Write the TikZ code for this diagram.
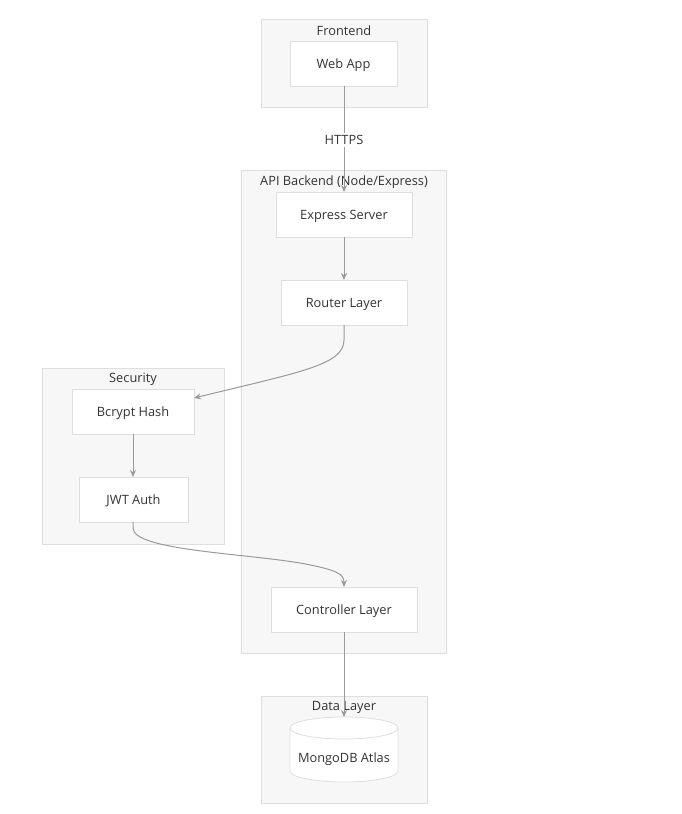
\documentclass[tikz,border=0pt]{standalone}
\usepackage{fontspec}
\setmainfont{Open Sans}
\usetikzlibrary{arrows.meta}
\definecolor{clfill}{HTML}{F7F7F7}
\definecolor{clline}{HTML}{DEDEDE}
\definecolor{edge}{HTML}{9A9A9A}
\definecolor{txt}{HTML}{333333}
\begin{document}
\begin{tikzpicture}[x=1pt,y=-1pt,
  cluster/.style={draw=clline,fill=clfill,line width=0.8pt},
  box/.style={draw=clline,fill=white,line width=0.8pt},
  lbl/.style={text=txt,font=\fontsize{12.8}{15}\selectfont,inner sep=0pt},
  conn/.style={draw=edge,line width=1pt,-{Stealth[length=7pt,width=6pt]}}]
\useasboundingbox[fill=white] (0,0) rectangle (681,814);
% clusters
\draw[cluster] (261,19) rectangle (427,107);
\node[lbl] (cfront) at (344,31) {Frontend};
\draw[cluster] (241,170) rectangle (446,653);
\node[lbl] (capi) at (344,182) {API Backend (Node/Express)};
\draw[cluster] (42,368) rectangle (224,544);
\node[lbl] (csec) at (133,379) {Security};
\draw[cluster] (261,696) rectangle (427,803);
\node[lbl] (cdata) at (344,707) {Data Layer};
% nodes
\draw[box] (290,41) rectangle (397,86);
\node[lbl] (web) at (343.5,65) {Web App};
\coordinate (webb) at (344,86);
\draw[box] (276,192) rectangle (412,237);
\node[lbl] (exp) at (344,216) {Express Server};
\coordinate (expt) at (344,192);
\coordinate (expb) at (344,237);
\draw[box] (281,280) rectangle (407,325);
\node[lbl] (rtr) at (344,304) {Router Layer};
\coordinate (rtrt) at (344,280);
\coordinate (rtrb) at (344,325);
\draw[box] (72,389) rectangle (194,434);
\node[lbl] (bc) at (133,413) {Bcrypt Hash};
\coordinate (bcr) at (194,398);
\coordinate (bcb) at (133,434);
\draw[box] (79,477) rectangle (188,522);
\node[lbl] (jwt) at (133.5,501) {JWT Auth};
\coordinate (jwtt) at (133,477);
\coordinate (jwtb) at (133,522);
\draw[box] (271,587) rectangle (417,632);
\node[lbl] (ctl) at (344,611) {Controller Layer};
\coordinate (ctlt) at (344,587);
\coordinate (ctlb) at (344,632);
% cylinder
\draw[box] (290,728) -- (290,771) arc[start angle=180,end angle=0,x radius=54,y radius=11] -- (398,728) arc[start angle=0,end angle=-180,x radius=54,y radius=11] -- cycle;
\draw[box,fill=none] (290,728) arc[start angle=180,end angle=0,x radius=54,y radius=11];
\node[lbl] (db) at (344,759) {MongoDB Atlas};
\coordinate (dbt) at (344,717);
% edges
\draw[conn] (webb) -- (expt);
\node[lbl,fill=white,inner sep=2pt] (https) at (344,140) {HTTPS};
\draw[conn] (expb) -- (rtrt);
\draw[conn] (rtrb) -- (344,340) .. controls (344,365) and (300,372) .. (bcr);
\draw[conn] (bcb) -- (jwtt);
\draw[conn] (jwtb) -- (133,528) .. controls (133,550) and (240,553) .. (300,563) .. controls (338,570) and (344,574) .. (ctlt);
\draw[conn] (ctlb) -- (dbt);
\end{tikzpicture}
\end{document}
